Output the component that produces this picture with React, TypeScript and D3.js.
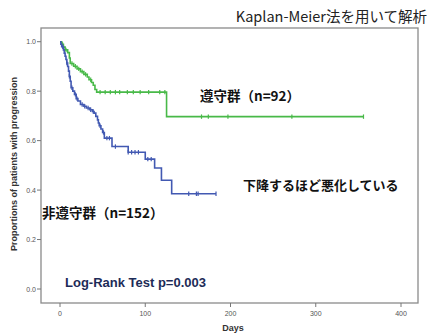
import React, { useEffect, useRef } from 'react';
import * as d3 from 'd3';

// Kaplan-Meier steps: [day, proportion after event]
const adherentSteps: [number, number][] = [
    [0, 1.0], [2, 0.989], [4, 0.978], [6, 0.967], [9, 0.956], [11, 0.934], [12, 0.912],
    [16, 0.901], [20, 0.89], [24, 0.879], [28, 0.868], [32, 0.857], [34, 0.846],
    [37, 0.835], [39, 0.824], [41, 0.807], [43, 0.796], [125, 0.697]
];
const adherentCensor = [3, 7, 14, 18, 22, 26, 30, 36, 47, 53, 59, 65, 70, 79, 86, 94, 104, 117, 123, 166, 174, 197, 272, 356];
const adherentEnd = 356;

const nonAdherentSteps: [number, number][] = [
    [0, 1.0], [1, 0.99], [2, 0.98], [4, 0.967], [5, 0.954], [6, 0.941], [7, 0.928],
    [8, 0.914], [9, 0.9], [10, 0.881], [11, 0.86], [12, 0.84], [13, 0.814], [15, 0.8],
    [17, 0.787], [19, 0.77], [21, 0.76], [24, 0.746], [28, 0.739], [31, 0.732],
    [35, 0.725], [38, 0.718], [40, 0.711], [42, 0.698], [44, 0.684], [45, 0.671],
    [46, 0.66], [48, 0.647], [50, 0.633], [52, 0.61], [61, 0.576], [80, 0.553],
    [100, 0.525], [111, 0.489], [119, 0.44], [131, 0.385]
];
const nonAdherentCensor = [3, 8, 11, 14, 18, 20, 26, 29, 33, 36, 39, 47, 51, 55, 58, 65, 80, 84, 88, 92, 103, 107, 151, 160, 162, 183];
const nonAdherentEnd = 183;

const xTicks = [0, 100, 200, 300, 400];
const yTicks = [0.0, 0.2, 0.4, 0.6, 0.8, 1.0];

const W = 430, H = 335;
const frame = { left: 41, right: 418, top: 28, bottom: 303 };

const GREEN = '#48b948';
const BLUE = '#4259b2';

const survivalAt = (steps: [number, number][], t: number) => {
    let v = steps[0][1];
    for (const [d, s] of steps) if (d <= t) v = s;
    return v;
};

const createChart = (container: SVGSVGElement) => {
    const svg = d3.select(container);
    svg.selectAll('*').remove();
    svg.attr('width', W).attr('height', H);

    svg.append('rect').attr('width', W).attr('height', H).attr('fill', '#fff');

    const x = d3.scaleLinear().domain([0, 400]).range([60, 401]);
    const y = d3.scaleLinear().domain([0, 1]).range([289, 41.7]);

    // title (top-right)
    svg.append('text')
        .attr('x', 427).attr('y', 22)
        .attr('text-anchor', 'end')
        .attr('font-family', '"Noto Sans CJK JP", "Liberation Sans", sans-serif')
        .attr('font-size', 14.5)
        .attr('fill', '#222')
        .text('Kaplan-Meier法を用いて解析');

    // plot frame
    svg.append('rect')
        .attr('x', frame.left).attr('y', frame.top)
        .attr('width', frame.right - frame.left)
        .attr('height', frame.bottom - frame.top)
        .attr('fill', 'none')
        .attr('stroke', '#8a8a8a')
        .attr('stroke-width', 1.3);

    // y ticks
    const yAxis = svg.append('g');
    yTicks.forEach(t => {
        yAxis.append('line')
            .attr('x1', frame.left - 4).attr('x2', frame.left)
            .attr('y1', y(t)).attr('y2', y(t))
            .attr('stroke', '#777').attr('stroke-width', 1);
        yAxis.append('text')
            .attr('x', frame.left - 5).attr('y', y(t) + 2.5)
            .attr('text-anchor', 'end')
            .attr('font-family', '"Liberation Sans", Arial, sans-serif')
            .attr('font-size', 7)
            .attr('fill', '#555')
            .text(d3.format('.1f')(t));
    });

    // x ticks
    const xAxis = svg.append('g');
    xTicks.forEach(t => {
        xAxis.append('line')
            .attr('x1', x(t)).attr('x2', x(t))
            .attr('y1', frame.bottom).attr('y2', frame.bottom + 4)
            .attr('stroke', '#777').attr('stroke-width', 1);
        xAxis.append('text')
            .attr('x', x(t)).attr('y', frame.bottom + 13)
            .attr('text-anchor', 'middle')
            .attr('font-family', '"Liberation Sans", Arial, sans-serif')
            .attr('font-size', 7)
            .attr('fill', '#555')
            .text(t);
    });

    svg.append('text')
        .attr('x', 233).attr('y', 331)
        .attr('text-anchor', 'middle')
        .attr('font-family', '"Liberation Sans", Arial, sans-serif')
        .attr('font-weight', 'bold')
        .attr('font-size', 9)
        .attr('fill', '#333')
        .text('Days');

    svg.append('text')
        .attr('transform', 'translate(17,164) rotate(-90)')
        .attr('text-anchor', 'middle')
        .attr('font-family', '"Liberation Sans", Arial, sans-serif')
        .attr('font-weight', 'bold')
        .attr('font-size', 9)
        .attr('fill', '#333')
        .text('Proportions of patients with progression');

    const line = d3.line<[number, number]>()
        .x(d => x(d[0]))
        .y(d => y(d[1]))
        .curve(d3.curveStepAfter);

    const drawGroup = (steps: [number, number][], censor: number[], end: number, color: string) => {
        const pts: [number, number][] = [...steps, [end, steps[steps.length - 1][1]]];
        svg.append('path')
            .attr('d', line(pts))
            .attr('fill', 'none')
            .attr('stroke', color)
            .attr('stroke-width', 1.6);
        svg.append('g').selectAll('line')
            .data(censor)
            .enter().append('line')
            .attr('x1', d => x(d)).attr('x2', d => x(d))
            .attr('y1', d => y(survivalAt(steps, d)) - 2.2)
            .attr('y2', d => y(survivalAt(steps, d)) + 2.2)
            .attr('stroke', color)
            .attr('stroke-width', 1.2);
    };

    drawGroup(adherentSteps, adherentCensor, adherentEnd, GREEN);
    drawGroup(nonAdherentSteps, nonAdherentCensor, nonAdherentEnd, BLUE);

    const jp = '"Noto Sans CJK JP", sans-serif';
    const labels = [
        { text: '遵守群（n=92）', x: 200, y: 101, size: 13.5, color: '#111', font: jp },
        { text: '下降するほど悪化している', x: 243, y: 190, size: 13, color: '#111', font: jp },
        { text: '非遵守群（n=152）', x: 42, y: 218, size: 13.5, color: '#111', font: jp },
        { text: 'Log-Rank Test p=0.003', x: 65, y: 287, size: 13, color: '#1d2b57', font: '"Liberation Sans", Arial, sans-serif' }
    ];
    svg.append('g').selectAll('text')
        .data(labels)
        .enter().append('text')
        .attr('x', d => d.x).attr('y', d => d.y)
        .attr('font-family', d => d.font)
        .attr('font-weight', 'bold')
        .attr('font-size', d => d.size)
        .attr('fill', d => d.color)
        .text(d => d.text);
};

const App = () => {
    const ref = useRef<SVGSVGElement>(null);

    useEffect(() => {
        if (ref.current) createChart(ref.current);
    }, []);

    return (
        <div>
            <svg ref={ref} style={{ position: 'absolute', left: 0, top: 0 }} />
        </div>
    );
};

export default App;
